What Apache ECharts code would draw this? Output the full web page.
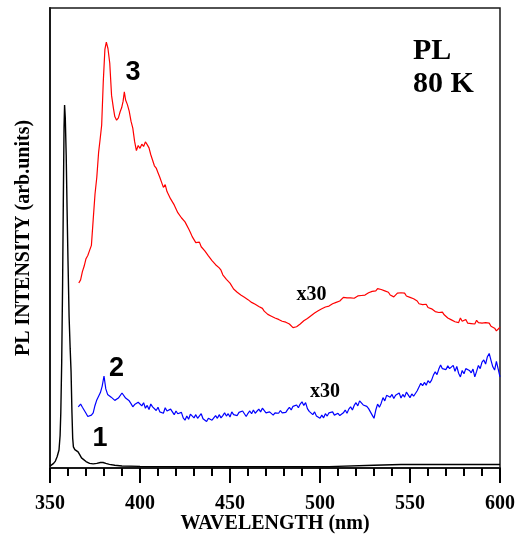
<!DOCTYPE html>
<html>
<head>
<meta charset="utf-8">
<script src="https://cdn.jsdelivr.net/npm/echarts@6/dist/echarts.min.js"></script>
<style>
html,body{margin:0;padding:0;background:#fff;}
#chart{width:515px;height:539px;}
</style>
</head>
<body>
<div id="chart"></div>
<script>
// ---- data (wavelength nm, intensity arb. units) ----
const xTicks = [350, 400, 450, 500, 550, 600];

const curve1 = [[350,0.4],[351,0.6],[352,1.0],[353,1.5],[354,2.5],[355,3.9],[355.6,7],[356,12],[356.5,23],[357,40],[357.4,58],[357.8,74],[358.1,78.9],[358.5,76],[359,68],[359.5,56],[360,45],[360.6,33],[361.2,26],[361.7,21],[362.2,12],[362.6,6.5],[363,4.6],[363.8,4.0],[364.8,3.8],[365.6,3.5],[366.5,2.9],[367.5,2.2],[368.5,1.8],[370,1.4],[372,1.0],[374,0.9],[376,1.0],[378,1.2],[379.5,1.2],[381,1.0],[383,0.8],[386,0.6],[390,0.45],[400,0.35],[450,0.3],[505,0.3],[530,0.6],[545,0.75],[600,0.75]];

const curve2 = [[365.7,13.3],[367,13.9],[368,13.2],[369,12.8],[370,11.9],[371,11.2],[372,10.8],[373,11.5],[374,12.0],[375,13.6],[376,14.8],[377,15.1],[378,16.4],[379,17.8],[380,20.0],[381,17.2],[382,16.0],[383,16.3],[384,15.4],[385,15.6],[386,14.7],[387,14.4],[388,15.2],[389,15.6],[390,16.3],[391,15.9],[392,15.2],[393,15.5],[394,14.6],[395,14.0],[396,13.3],[397,13.8],[398,13.4],[399,14.3],[400,14.1],[401,13.5],[402,14.2],[403,13.0],[404,13.6],[405,12.7],[406,13.9],[407,13.3],[408,12.9],[409,12.5],[410,13.2],[411,12.2],[412,12.6],[413,11.9],[414,13.1],[415,12.4],[416,12.0],[417,12.8],[418,12.2],[419,11.6],[420,12.4],[421,11.8],[422,11.5],[423,12.1],[424,10.9],[425,10.4],[426,11.3],[427,10.6],[428,11.7],[429,11.5],[430,10.9],[431,11.6],[432,10.8],[433,11.2],[434,11.8],[435,10.7],[436,10.5],[437,10.1],[438,10.8],[439,11.2],[440,10.4],[441,10.9],[442,11.4],[443,10.8],[444,11.6],[445,10.9],[446,11.4],[447,12.0],[448,11.3],[449,11.8],[450,11.1],[451,12.2],[452,11.6],[453,12.0],[454,11.4],[455,12.1],[456,11.7],[457,12.4],[458,11.8],[459,11.2],[460,11.9],[461,12.4],[462,11.8],[463,12.6],[464,11.9],[465,12.3],[466,12.8],[467,12.2],[468,13.0],[469,12.6],[470,12.0],[471,11.6],[472,12.2],[473,11.8],[474,11.5],[475,12.0],[476,12.3],[477,11.9],[478,12.5],[479,12.0],[480,12.4],[481,12.1],[482,12.7],[483,13.2],[484,12.6],[485,13.4],[486,13.0],[487,13.7],[488,13.1],[489,13.9],[490,14.4],[491,13.6],[492,14.2],[493,12.9],[494,12.3],[495,12.0],[496,11.6],[497,12.2],[498,11.3],[499,11.7],[500,10.8],[501,11.5],[502,10.9],[503,11.8],[504,11.3],[505,12.0],[506,11.6],[507,12.2],[508,11.5],[509,11.2],[510,11.9],[511,11.4],[512,11.2],[513,12.0],[514,12.6],[515,11.9],[516,12.8],[517,13.3],[518,12.6],[519,13.6],[520,14.2],[521,13.5],[522,14.6],[523,14.4],[524,13.7],[525,14.1],[526,13.4],[527,12.9],[528,12.2],[529,11.5],[530,10.8],[531,12.6],[532,13.9],[533,13.2],[534,14.1],[535,15.3],[536,14.6],[537,15.8],[538,16.2],[539,15.4],[540,16.0],[541,15.1],[542,15.8],[543,15.5],[544,16.3],[545,15.2],[546,16.0],[547,15.4],[548,16.5],[549,15.9],[550,15.3],[551,16.1],[552,15.6],[553,15.5],[554,16.8],[555,17.6],[556,18.4],[557,17.9],[558,18.6],[559,18.0],[560,19.0],[561,18.5],[562,19.1],[563,20.2],[564,20.9],[565,20.3],[566,21.5],[567,22.4],[568,21.6],[569,22.0],[570,21.4],[571,22.2],[572,21.6],[573,21.3],[574,22.3],[575,21.0],[576,22.1],[577,20.6],[578,19.8],[579,21.2],[580,20.5],[581,21.6],[582,22.0],[583,21.2],[584,20.7],[585,21.5],[586,19.8],[587,21.0],[588,22.3],[589,21.6],[590,23.0],[591,23.5],[592,22.6],[593,24.2],[594,24.9],[595,23.4],[596,22.0],[597,21.3],[598,23.2],[599,23.5],[600,19.8]];

const curve3 = [[366,40.2],[367,40.9],[368,42.7],[369,43.9],[370,45.5],[371,46.2],[372,47.3],[373,48.4],[374,54.0],[375,59.5],[376,63.2],[377,68.6],[377.8,71.3],[378.7,74.5],[379.6,84.0],[380.5,91.0],[381.3,92.6],[382.2,91.2],[383.2,88.0],[384.2,81.0],[385.2,78.3],[386,76.4],[387,75.6],[388,76.1],[389,77.5],[389.8,78.3],[390.6,79.7],[391.3,81.8],[392,80.0],[393,79.0],[394,77.6],[395,75.4],[396,73.9],[397,71.0],[398,69.0],[399,70.1],[400,69.5],[401,70.4],[402,69.9],[403,70.9],[404,70.3],[405,69.6],[406,68.1],[407,66.9],[408,65.7],[409,65.2],[410,64.2],[411,63.2],[412,62.1],[413,61.0],[414,61.6],[415,60.1],[416,59.8],[417,58.5],[418,58.3],[419,57.2],[420,56.8],[421,55.5],[422,55.3],[423,54.4],[424,54.1],[425,53.5],[426,53.3],[427,52.0],[428,51.2],[429,50.3],[430,50.0],[431,49.0],[432,48.8],[433,49.1],[434,48.1],[435,48.0],[436,47.2],[437,47.3],[438,46.1],[439,45.9],[440,45.1],[441,45.0],[442,44.2],[443,44.1],[444,43.5],[445,43.0],[446,42.0],[447,41.7],[448,41.0],[449,40.9],[450,40.2],[451,39.9],[452,38.9],[453,38.8],[454,38.2],[455,38.1],[456,37.6],[457,37.7],[458,37.1],[459,37.0],[460,36.6],[461,36.5],[462,36.0],[463,36.0],[464,35.6],[465,35.5],[466,35.1],[467,34.9],[468,34.7],[469,34.1],[470,34.0],[471,33.4],[472,33.4],[473,33.0],[474,33.0],[475,32.6],[476,32.7],[477,32.3],[478,32.6],[479,31.9],[480,32.0],[481,31.7],[482,31.6],[483,31.3],[484,31.1],[485,30.5],[486,30.1],[487,30.7],[488,30.9],[489,31.3],[490,31.4],[491,32.0],[492,32.0],[493,32.5],[494,32.5],[495,33.1],[496,33.2],[497,33.7],[498,33.7],[499,34.2],[500,34.2],[501,34.6],[502,34.5],[503,35.0],[504,34.9],[505,35.2],[506,35.2],[507,35.7],[508,35.6],[509,36.0],[510,35.9],[511,36.3],[512,36.5],[513,37.1],[514,37.1],[515,37.0],[516,37.4],[517,37.0],[518,37.3],[519,36.9],[520,37.1],[521,37.4],[522,37.0],[523,37.5],[524,37.3],[525,37.6],[526,37.9],[527,38.1],[528,37.8],[529,38.4],[530,38.7],[531,38.5],[532,39.0],[533,39.1],[534,38.8],[535,38.9],[536,38.5],[537,38.7],[538,38.2],[539,37.6],[540,37.8],[541,37.2],[542,37.5],[543,38.0],[544,37.6],[545,38.1],[546,37.7],[547,38.0],[548,37.4],[549,37.6],[550,37.1],[551,37.3],[552,36.8],[553,36.9],[554,36.3],[555,35.7],[556,36.0],[557,35.5],[558,35.2],[559,35.6],[560,34.9],[561,35.0],[562,34.6],[563,34.2],[564,34.0],[565,34.3],[566,33.8],[567,33.4],[568,33.9],[569,33.3],[570,33.0],[571,32.6],[572,32.9],[573,32.2],[574,32.5],[575,31.8],[576,32.2],[577,31.6],[578,32.6],[579,31.9],[580,31.7],[581,32.3],[582,31.5],[583,31.9],[584,31.4],[585,31.8],[586,31.3],[587,32.1],[588,31.6],[589,31.9],[590,31.5],[591,31.9],[592,31.6],[593,31.2],[594,31.5],[595,30.8],[596,31.1],[597,30.4],[598,29.8],[599,29.5],[600,30.6]];

// annotations (text, data x, data y, style)
const annoText = ['3', '2', '1', 'x30', 'x30'];
const annoX    = [396.1, 387.0, 377.8, 495.3, 502.8];
const annoY    = [85.9, 21.6, 6.3, 37.6, 16.6];
const annoSans = [true, true, true, false, false];

const tagLines = ['PL', '80 K'];

const serif = '"Liberation Serif", "Times New Roman", serif';
const sans = '"Liberation Sans", Arial, sans-serif';
const axisColor = '#1a1a1a';

const chart = echarts.init(document.getElementById('chart'), null, {renderer: 'canvas'});

chart.setOption({
  animation: false,
  backgroundColor: '#fff',
  grid: {left: 50, right: 15, top: 8, bottom: 71, containLabel: false, outerBoundsMode: 'none',
         show: true, borderColor: axisColor, borderWidth: 1.5, backgroundColor: 'transparent'},
  xAxis: {
    type: 'value', min: xTicks[0], max: xTicks[xTicks.length - 1], interval: 50,
    name: 'WAVELENGTH (nm)', nameLocation: 'middle', nameGap: 46, nameMoveOverlap: false,
    nameTextStyle: {fontFamily: serif, fontWeight: 'bold', fontSize: 20, color: '#000'},
    axisLine: {show: true, onZero: false, lineStyle: {color: axisColor, width: 2}},
    axisTick: {show: true, inside: false, length: 15, lineStyle: {color: '#000', width: 2}},
    minorTick: {show: true, splitNumber: 5, length: 8, lineStyle: {color: '#000', width: 2}},
    axisLabel: {fontFamily: serif, fontWeight: 'bold', fontSize: 20, color: '#000', margin: 26},
    splitLine: {show: false}
  },
  yAxis: {
    type: 'value', min: 0, max: 100,
    name: 'PL INTENSITY (arb.units)', nameLocation: 'middle', nameGap: 16, nameMoveOverlap: false,
    nameTextStyle: {fontFamily: serif, fontWeight: 'bold', fontSize: 20, color: '#000'},
    axisLine: {show: true, lineStyle: {color: axisColor, width: 2}},
    axisTick: {show: false},
    axisLabel: {show: false},
    splitLine: {show: false}
  },
  series: [
    {type: 'line', data: curve1, showSymbol: false, symbol: 'none', lineStyle: {color: '#000', width: 1.4}, z: 3},
    {type: 'line', data: curve2, showSymbol: false, symbol: 'none', lineStyle: {color: '#0000ff', width: 1.2}, z: 2},
    {type: 'line', data: curve3, showSymbol: false, symbol: 'none', lineStyle: {color: '#ff0000', width: 1.2}, z: 2}
  ]
});

const graphics = annoText.map((t, i) => {
  const p = chart.convertToPixel({gridIndex: 0}, [annoX[i], annoY[i]]);
  return {
    type: 'text', x: p[0], y: p[1], z: 10,
    style: {
      text: t, align: 'center', verticalAlign: 'middle',
      font: annoSans[i] ? ('bold 27px ' + sans) : ('bold 20px ' + serif),
      fill: '#000'
    }
  };
});
graphics.push({type: 'text', x: 413, y: 51, z: 10, style: {text: tagLines[0], align: 'left', verticalAlign: 'middle', font: 'bold 30px ' + serif, fill: '#000'}});
graphics.push({type: 'text', x: 413, y: 84, z: 10, style: {text: tagLines[1], align: 'left', verticalAlign: 'middle', font: 'bold 30px ' + serif, fill: '#000'}});
chart.setOption({graphic: graphics});
</script>
</body>
</html>
